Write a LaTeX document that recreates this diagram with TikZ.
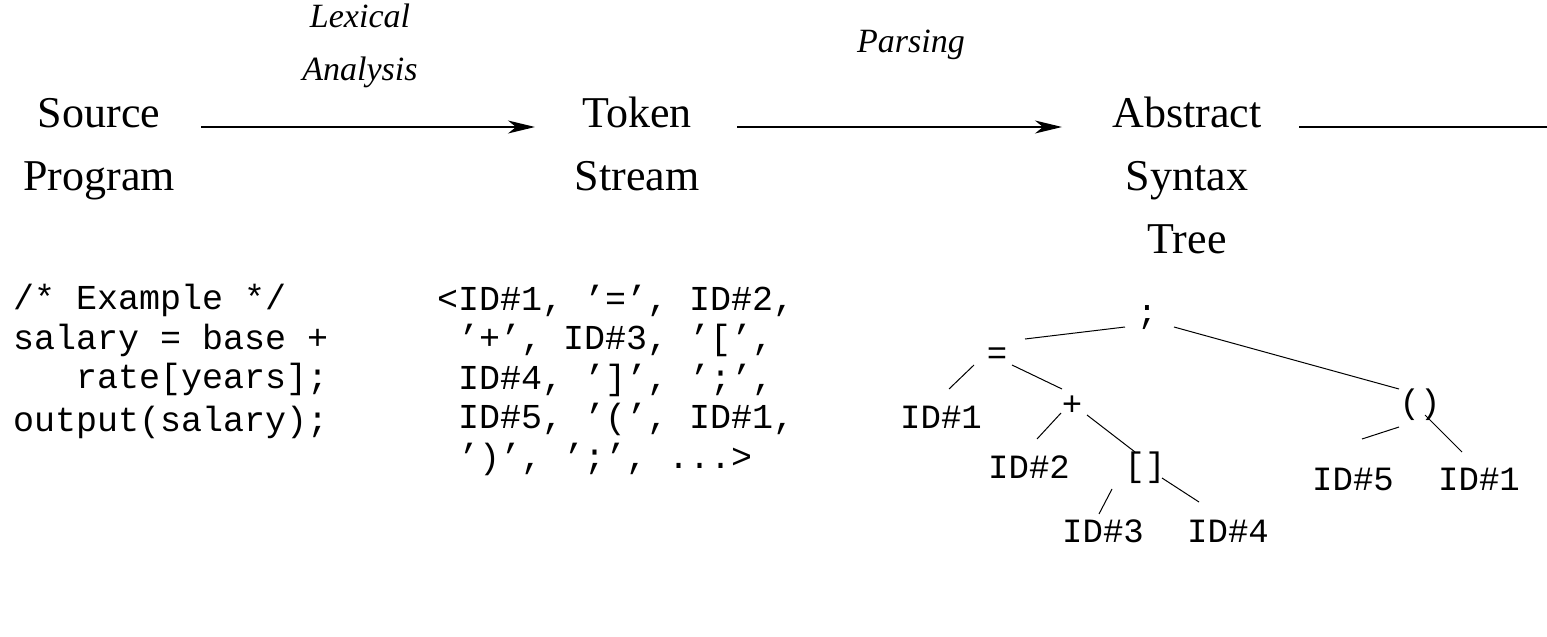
\documentclass[tikz,border=0pt]{standalone}
\usepackage{fontspec}
\setmainfont{Liberation Serif}
\setmonofont{Liberation Mono}
\usetikzlibrary{arrows.meta}
\begin{document}
\begin{tikzpicture}[x=1pt,y=-1pt,
  stage/.style={font=\fontsize{44}{63}\selectfont, align=center, inner sep=0pt, anchor=base},
  phase/.style={font=\fontsize{34}{53}\selectfont\itshape, align=center, inner sep=0pt, anchor=base},
  code/.style={font=\fontsize{35}{39.5}\selectfont\ttfamily, align=left, inner sep=0pt, anchor=base west},
  tnode/.style={font=\fontsize{34}{40}\selectfont\ttfamily, inner sep=0pt, anchor=center},
  arr/.style={line width=1.3pt, -{Stealth[length=27pt, width=13pt, inset=8pt]}},
  plain/.style={line width=1.3pt},
  edge/.style={line width=1pt}]
\useasboundingbox (0,0) rectangle (1547,637);

% stages (anchor = baseline of the last line)
\node[stage] (src) at (99,190) {Source\\Program};
\node[stage] (tok) at (637,190) {Token\\Stream};
\node[stage] (ast) at (1187,253) {Abstract\\Syntax\\Tree};
\coordinate (end) at (1547,127);

% phase labels
\node[phase] (lex) at (360,80) {Lexical\\Analysis};
\node[phase] (par) at (911,52) {Parsing};

% arrows
\draw[arr] (201,127) -- (535,127);
\draw[arr] (737,127) -- (1062,127);
\draw[plain] (1299,127) -- (end);

% code
\node[code] (prog) at (13,431) {/* Example */\\salary = base +\\\phantom{xxx}rate[years];\\[3pt]output(salary);};
\node[code] (toks) at (437,468) {<ID\#1, ’=’, ID\#2,\\\phantom{x}’+’, ID\#3, ’[’,\\\phantom{x}ID\#4, ’]’, ’;’,\\\phantom{x}ID\#5, ’(’, ID\#1,\\\phantom{x}’)’, ’;’, ...>};

% tree
\node[tnode] (semi) at (1147,318) {;};
\node[tnode] (eq) at (997,356) {=};
\node[tnode] (ida) at (941,417) {ID\#1};
\node[tnode] (plus) at (1072,406) {+};
\node[tnode] (idb) at (1029,467) {ID\#2};
\node[tnode] (brk) at (1145,468) {[]};
\node[tnode] (idc) at (1103,531) {ID\#3};
\node[tnode] (idd) at (1228,531) {ID\#4};
\node[tnode] (call) at (1420,405) {()};
\node[tnode] (ide) at (1353,479) {ID\#5};
\node[tnode] (idf) at (1479,479) {ID\#1};

\draw[edge] ([shift={(-22,9)}]semi.center) -- ([shift={(28,-17)}]eq.center);
\draw[edge] ([shift={(27,9)}]semi.center) -- ([shift={(-21,-16)}]call.center);
\draw[edge] ([shift={(-23,9)}]eq.center) -- ([shift={(8,-28)}]ida.center);
\draw[edge] ([shift={(15,9)}]eq.center) -- ([shift={(-10,-17)}]plus.center);
\draw[edge] ([shift={(-11,7)}]plus.center) -- ([shift={(8,-28)}]idb.center);
\draw[edge] ([shift={(15,9)}]plus.center) -- ([shift={(-10,-16)}]brk.center);
\draw[edge] ([shift={(-33,21)}]brk.center) -- ([shift={(-4,-17)}]idc.center);
\draw[edge] ([shift={(17,10)}]brk.center) -- ([shift={(-29,-29)}]idd.center);
\draw[edge] ([shift={(-21,22)}]call.center) -- ([shift={(9,-40)}]ide.center);
\draw[edge] ([shift={(5,10)}]call.center) -- ([shift={(-17,-27)}]idf.center);
\end{tikzpicture}
\end{document}
